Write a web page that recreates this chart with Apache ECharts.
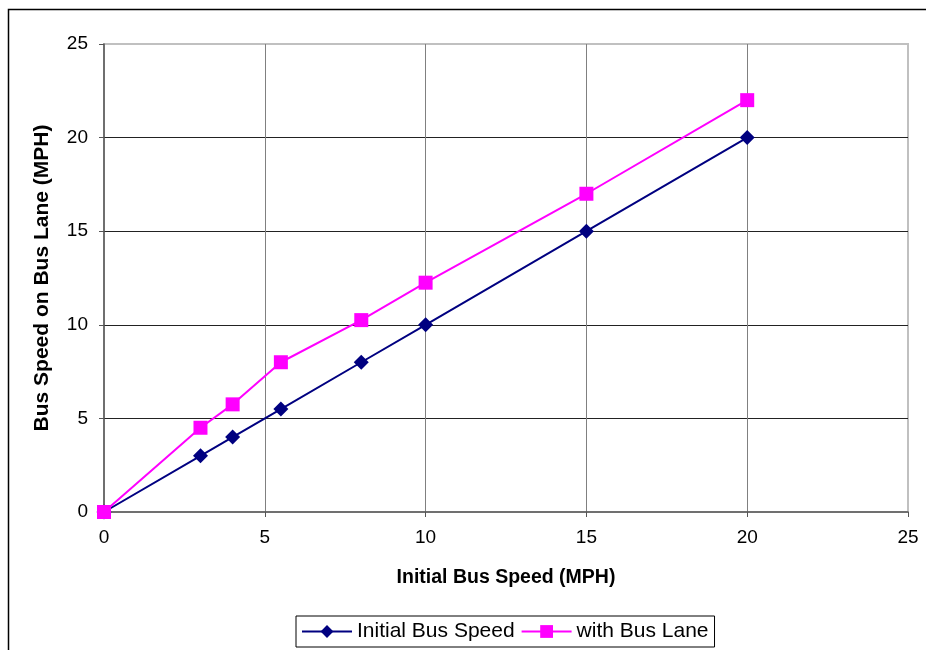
<!DOCTYPE html>
<html>
<head>
<meta charset="utf-8">
<script src="https://cdn.jsdelivr.net/npm/echarts@6/dist/echarts.min.js"></script>
<style>
html,body{margin:0;padding:0;background:#fff;}
#chart{width:926px;height:650px;}
</style>
</head>
<body>
<div id="chart"></div>
<script>
const initialSpeedX = [0, 3, 4, 5.5, 8, 10, 15, 20];
const initialBusSpeed = [0, 3, 4, 5.5, 8, 10, 15, 20];
const withBusLane = [0, 4.5, 5.75, 8, 10.25, 12.25, 17, 22];
const seriesNames = ['Initial Bus Speed', 'with Bus Lane'];
const xTitle = 'Initial Bus Speed (MPH)';
const yTitle = 'Bus Speed on Bus Lane (MPH)';

const font = 'Liberation Sans, Arial, sans-serif';
const chart = echarts.init(document.getElementById('chart'));
const pairs = (xs, ys) => xs.map((x, i) => [x, ys[i]]);

chart.setOption({
  animation: false,
  backgroundColor: '#fff',
  textStyle: { fontFamily: font },
  graphic: [{
    type: 'rect', left: 6, top: 7, silent: true, z: -1,
    shape: { width: 1000, height: 700 },
    style: { fill: 'none', stroke: '#000', lineWidth: 1.5 }
  }],
  grid: {
    left: 104, top: 44, right: 18, bottom: 138,
    show: true, borderColor: '#c0c0c0', borderWidth: 2, backgroundColor: 'transparent'
  },
  xAxis: {
    type: 'value', min: 0, max: 25, interval: 5,
    name: xTitle, nameLocation: 'middle', nameGap: 56,
    nameTextStyle: { fontFamily: font, fontSize: 19.5, fontWeight: 'bold', color: '#000' },
    axisLine: { show: true, lineStyle: { color: '#555', width: 1.5 } },
    axisTick: { show: true, inside: false, length: 5, lineStyle: { color: '#555' } },
    axisLabel: { fontFamily: font, fontSize: 19, color: '#000', margin: 16 },
    splitLine: { show: true, showMinLine: false, showMaxLine: false, lineStyle: { color: '#808080', width: 1 } }
  },
  yAxis: {
    type: 'value', min: 0, max: 25, interval: 5,
    name: yTitle, nameLocation: 'middle', nameGap: 51,
    nameTextStyle: { fontFamily: font, fontSize: 21, fontWeight: 'bold', color: '#000' },
    axisLine: { show: true, lineStyle: { color: '#555', width: 1.5 } },
    axisTick: { show: true, inside: false, length: 5, lineStyle: { color: '#555' } },
    axisLabel: { fontFamily: font, fontSize: 19, color: '#000', margin: 16 },
    splitLine: { show: true, showMinLine: false, showMaxLine: false, lineStyle: { color: '#222', width: 1 } }
  },
  legend: {
    left: 296, top: 616,
    orient: 'horizontal',
    borderColor: '#000', borderWidth: 1,
    padding: [5, 6, 5, 5],
    itemGap: 6,
    itemWidth: 50, itemHeight: 16,
    textStyle: { fontFamily: font, fontSize: 21, color: '#000' },
    data: seriesNames
  },
  series: [
    {
      name: seriesNames[0], type: 'line',
      data: pairs(initialSpeedX, initialBusSpeed),
      symbol: 'diamond', symbolSize: 15,
      lineStyle: { color: '#000080', width: 2 },
      itemStyle: { color: '#000080' },
      z: 3
    },
    {
      name: seriesNames[1], type: 'line',
      data: pairs(initialSpeedX, withBusLane),
      symbol: 'rect', symbolSize: 14,
      lineStyle: { color: '#ff00ff', width: 2 },
      itemStyle: { color: '#ff00ff' },
      z: 4
    }
  ]
});
</script>
</body>
</html>
